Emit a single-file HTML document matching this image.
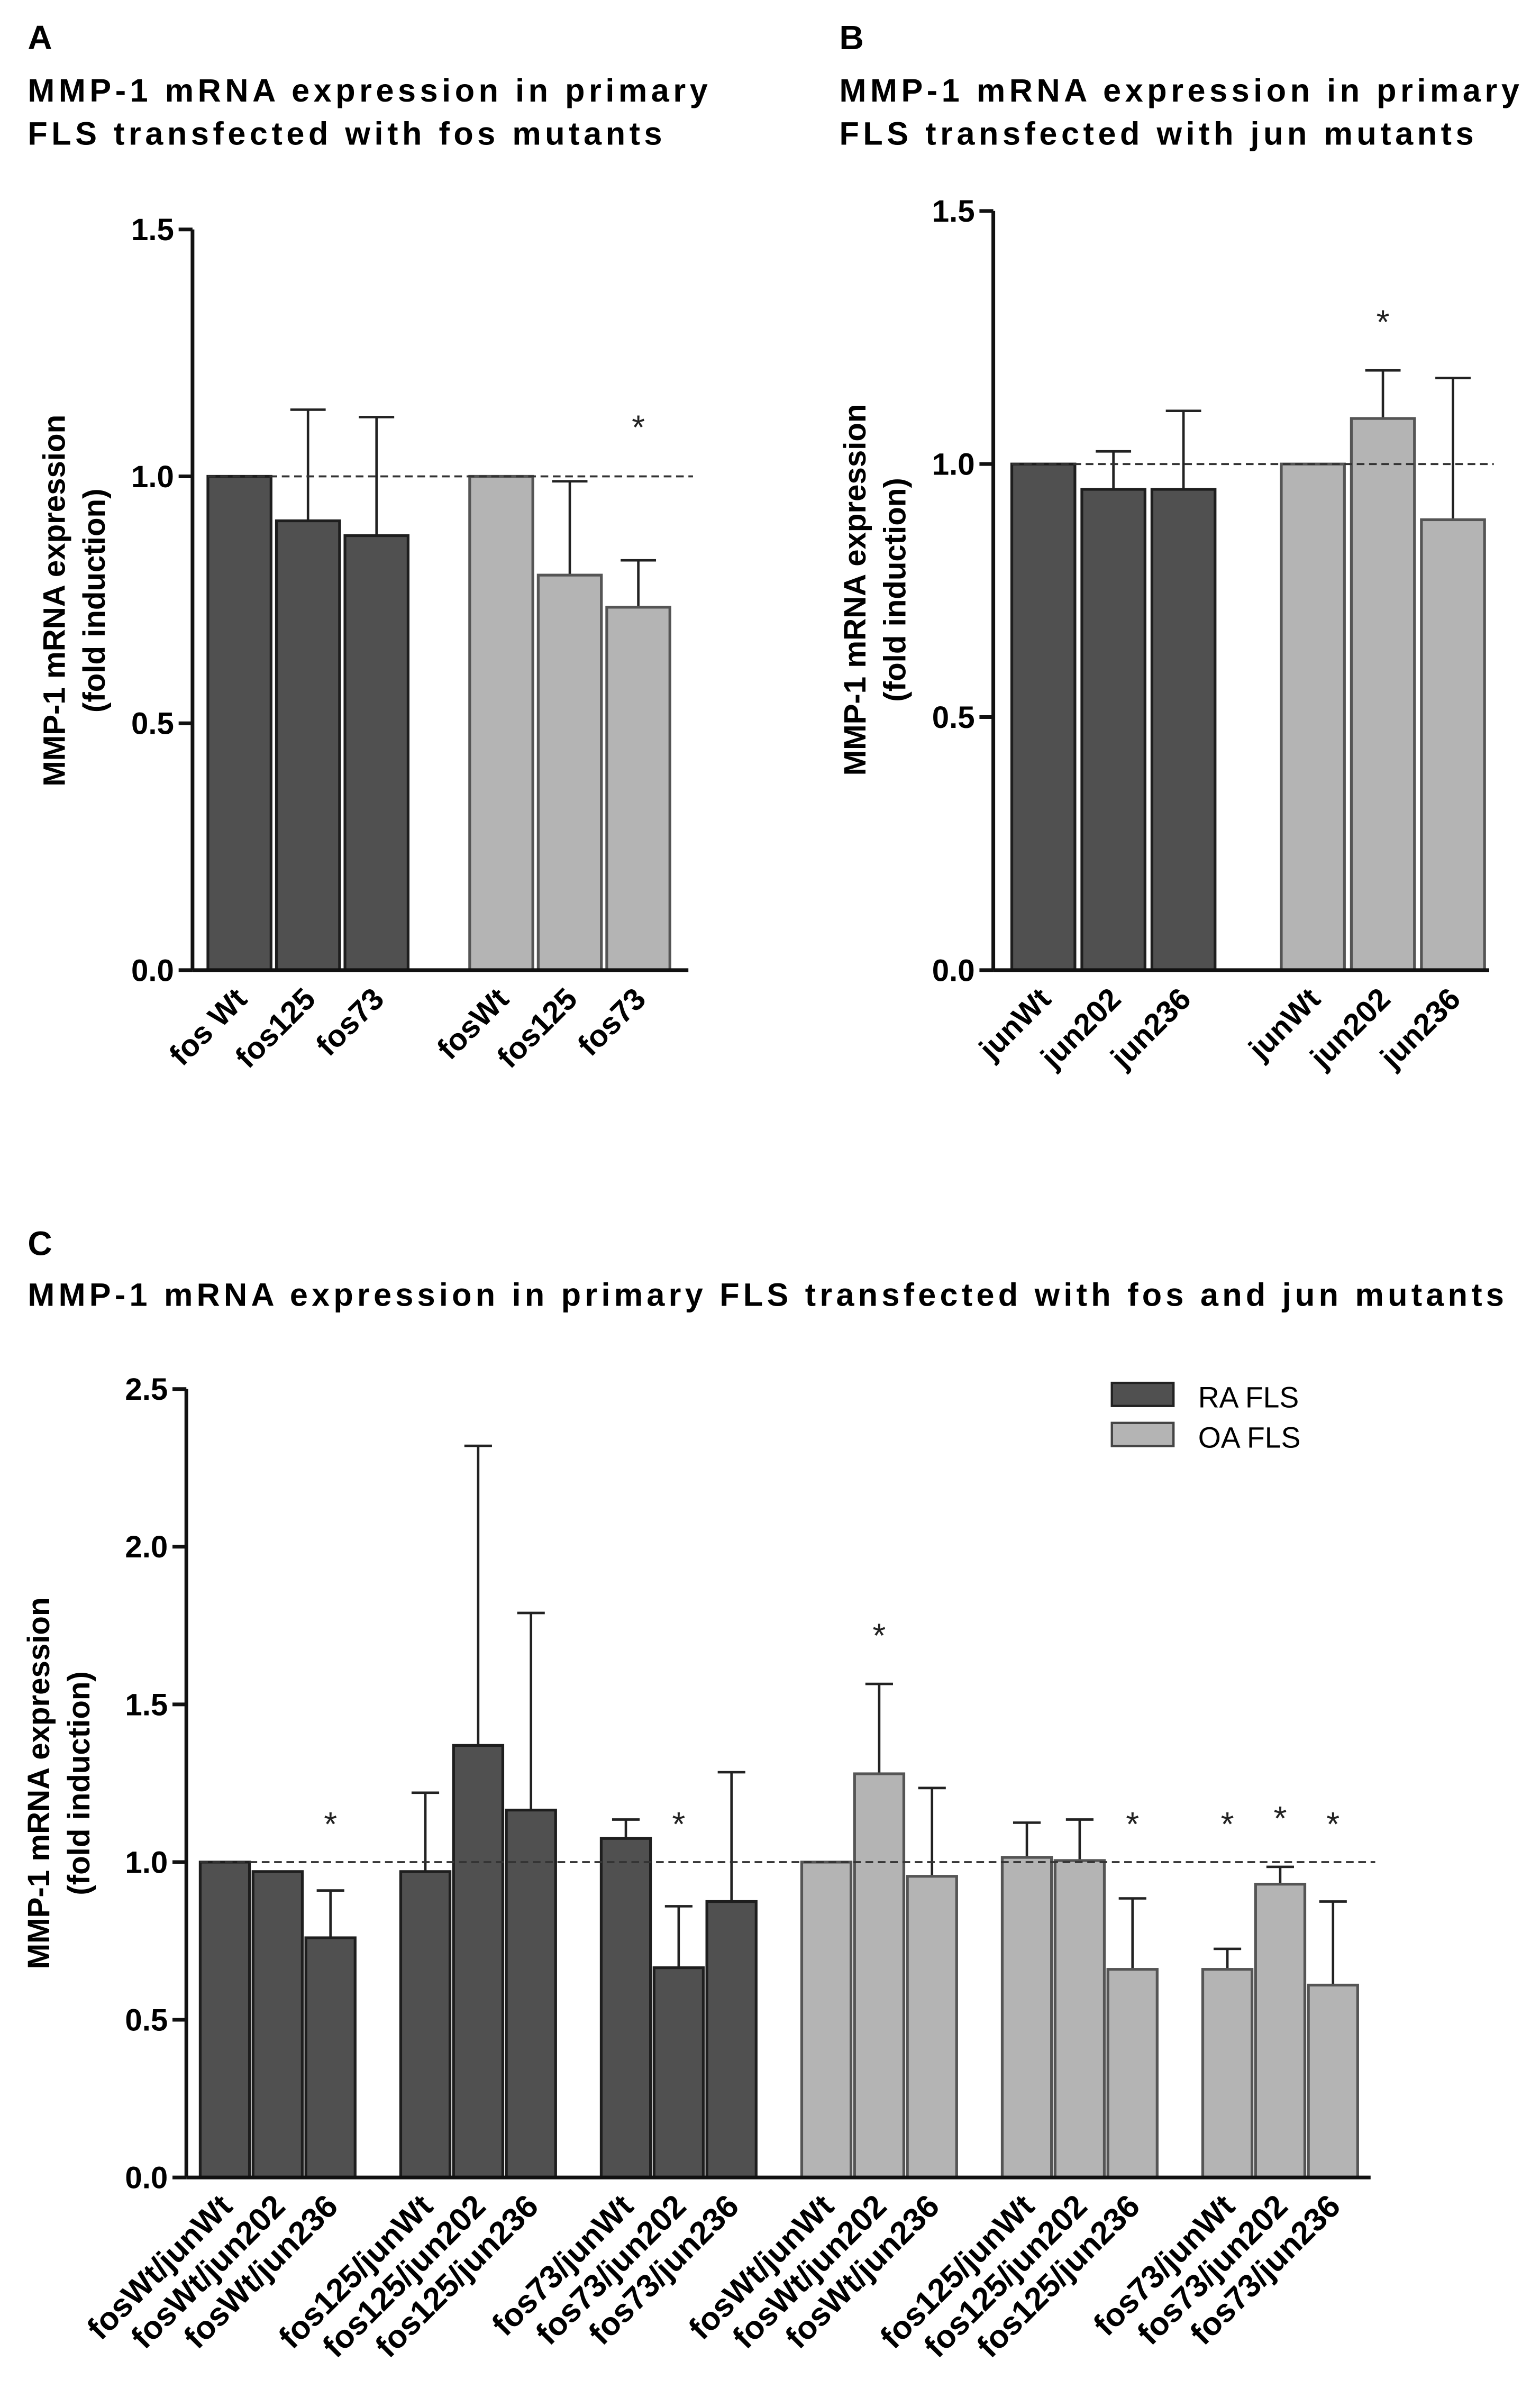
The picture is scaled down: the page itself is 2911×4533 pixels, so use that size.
<!DOCTYPE html>
<html><head><meta charset="utf-8"><style>
html,body{margin:0;padding:0;background:#fff;}
svg{display:block;}
text{font-family:"Liberation Sans",Arial,sans-serif;}
</style></head><body>
<svg id="fig" width="2911" height="4533" viewBox="0 0 1000 1557.2" xmlns="http://www.w3.org/2000/svg">
<text x="18" y="32" font-size="22" font-weight="bold">A</text>
<text x="18" y="66" font-size="21" font-weight="bold" letter-spacing="2.6">MMP-1 mRNA expression in primary</text>
<text x="18" y="94" font-size="21" font-weight="bold" letter-spacing="2.6">FLS transfected with fos mutants</text>
<text x="545" y="32" font-size="22" font-weight="bold">B</text>
<text x="545" y="66" font-size="21" font-weight="bold" letter-spacing="2.6">MMP-1 mRNA expression in primary</text>
<text x="545" y="94" font-size="21" font-weight="bold" letter-spacing="2.6">FLS transfected with jun mutants</text>
<text x="18" y="815" font-size="22" font-weight="bold">C</text>
<text x="18" y="848" font-size="21" font-weight="bold" letter-spacing="2.5">MMP-1 mRNA expression in primary FLS transfected with fos and jun mutants</text>
<g>
<rect x="722" y="898" width="40" height="15" fill="#505050" stroke="#222" stroke-width="1.5"/>
<text x="778" y="914" font-size="19">RA FLS</text>
<rect x="722" y="924" width="40" height="15" fill="#b4b4b4" stroke="#444" stroke-width="1.5"/>
<text x="778" y="940" font-size="19">OA FLS</text>
</g>
</svg>
<script>
// Panel A
const aLabels = ["fos Wt","fos125","fos73","fosWt","fos125","fos73"];
const aValues = [1,0.91,0.88,1,0.80,0.735];
const aErrTop = [1,1.135,1.12,1,0.99,0.83];
const aStars = [false,false,false,false,false,true];
const aTicks = [0,0.5,1.0,1.5];
// Panel B
const bLabels = ["junWt","jun202","jun236","junWt","jun202","jun236"];
const bValues = [1,0.95,0.95,1,1.09,0.89];
const bErrTop = [1,1.025,1.105,1,1.185,1.17];
const bStars = [false,false,false,false,true,false];
const bTicks = [0,0.5,1.0,1.5];
// Panel C
const cLabels = ["fosWt/junWt","fosWt/jun202","fosWt/jun236","fos125/junWt","fos125/jun202","fos125/jun236","fos73/junWt","fos73/jun202","fos73/jun236","fosWt/junWt","fosWt/jun202","fosWt/jun236","fos125/junWt","fos125/jun202","fos125/jun236","fos73/junWt","fos73/jun202","fos73/jun236"];
const cValues = [1,0.97,0.76,0.97,1.37,1.165,1.075,0.665,0.875,1,1.28,0.955,1.015,1.005,0.66,0.66,0.93,0.61];
const cErrTop = [1,0.97,0.91,1.22,2.32,1.79,1.135,0.86,1.285,1,1.565,1.235,1.125,1.135,0.885,0.725,0.985,0.875];
const cStars = [false,false,true,false,false,false,false,true,false,false,true,false,false,false,true,true,true,true];
const cTicks = ["0.0","0.5","1.0","1.5","2.0","2.5"];

const NS="http://www.w3.org/2000/svg";
const svg=document.getElementById('fig');
function mk(tag,attrs,parent){const e=document.createElementNS(NS,tag);for(const k in attrs)e.setAttribute(k,attrs[k]);(parent||svg).appendChild(e);return e;}

function panel(cfg){
  const g=mk('g',{});
  
  
  const y=v=>cfg.y0-v/cfg.max*(cfg.y0-cfg.yTop);
  const n=cfg.values.length, half=n/2;
  const x=i=>cfg.start+Math.floor(i/3)*cfg.groupStep+(i%3)*cfg.step;
  cfg.values.forEach((v,i)=>{
    const xt=x(i), yt=y(cfg.err[i]), cx=xt+cfg.bw/2, cw=cfg.bw*0.28;
    if(cfg.err[i]>v){
      const l=mk('line',{x1:cx,x2:cx,y1:y(v),y2:yt,stroke:'#222','stroke-width':1.6},g);
      
      
      const c=mk('line',{x1:cx-cw,x2:cx+cw,y1:yt,y2:yt,stroke:'#222','stroke-width':1.6},g);
      
      
    }
    const r=mk('rect',{x:xt,y:y(v),width:cfg.bw,height:cfg.y0-y(v),fill:i<half?'#505050':'#b4b4b4',stroke:i<half?'#1e1e1e':'#555','stroke-width':1.8},g);
    
    
    if(cfg.stars[i]){
      const sy=Math.min(cfg.starY, Math.min(yt,y(v))-24);
      const t=mk('text',{x:cx,y:sy,'font-size':22,'text-anchor':'middle',fill:'#222'},g);
      t.textContent='*';
      
      
    }
    const lx=cx+6, ly=cfg.y0+20;
    const lab=mk('text',{x:lx,y:ly,'font-size':cfg.lfs,'font-weight':'bold','text-anchor':'end',transform:`rotate(-45 ${lx} ${ly})`},g);
    lab.textContent=cfg.labels[i];
    
    
  });
  const d=mk('line',{x1:cfg.start,x2:cfg.xEnd+3,y1:y(1),y2:y(1),stroke:'#333','stroke-width':1.3,'stroke-dasharray':'5,3'},g);
  
  
  const ya=mk('line',{x1:cfg.ax,x2:cfg.ax,y1:cfg.yTop,y2:cfg.y0,stroke:'#111','stroke-width':2.4},g);
  
  
  const xa=mk('line',{x1:cfg.ax,x2:cfg.xEnd,y1:cfg.y0,y2:cfg.y0,stroke:'#111','stroke-width':2.4},g);
  
  
  cfg.ticks.forEach(tv=>{
    const v=parseFloat(tv);
    mk('line',{x1:cfg.ax-9,x2:cfg.ax,y1:y(v),y2:y(v),stroke:'#111','stroke-width':2.4},g);
    const t=mk('text',{x:cfg.ax-12,y:y(v)+7,'font-size':20,'font-weight':'bold','text-anchor':'end'},g);
    t.textContent=v.toFixed(1);
    
    
  });
  const cy=cfg.yTitle;
  const t1=mk('text',{x:cfg.ytx,y:cy,'font-size':cfg.yfs,'font-weight':'bold','text-anchor':'middle',transform:`rotate(-90 ${cfg.ytx} ${cy})`},g);
  t1.textContent='MMP-1 mRNA expression';
  
  
  const t2=mk('text',{x:cfg.ytx+26,y:cy,'font-size':cfg.yfs,'font-weight':'bold','text-anchor':'middle',transform:`rotate(-90 ${cfg.ytx+26} ${cy})`},g);
  t2.textContent='(fold induction)';
  
  
}
panel({name:'panel-a-chart',values:aValues,err:aErrTop,stars:aStars,labels:aLabels,ticks:aTicks,
  y0:630,yTop:149,max:1.5,ax:125,xEnd:447,start:135,step:44.5,groupStep:170,bw:41,lfs:20,starY:285,ytx:42,yTitle:390,yfs:20});
panel({name:'panel-b-chart',values:bValues,err:bErrTop,stars:bStars,labels:bLabels,ticks:bTicks,
  y0:630,yTop:137,max:1.5,ax:645,xEnd:967,start:657,step:45.5,groupStep:175,bw:41,lfs:20,starY:225,ytx:562,yTitle:383,yfs:20});
panel({name:'panel-c-chart',values:cValues,err:cErrTop,stars:cStars,labels:cLabels,ticks:cTicks,
  y0:1414,yTop:902,max:2.5,ax:121,xEnd:890,start:130,step:34.3,groupStep:130.2,bw:32,lfs:21,starY:1192,ytx:32,yTitle:1158,yfs:20});
</script>
</body></html>
